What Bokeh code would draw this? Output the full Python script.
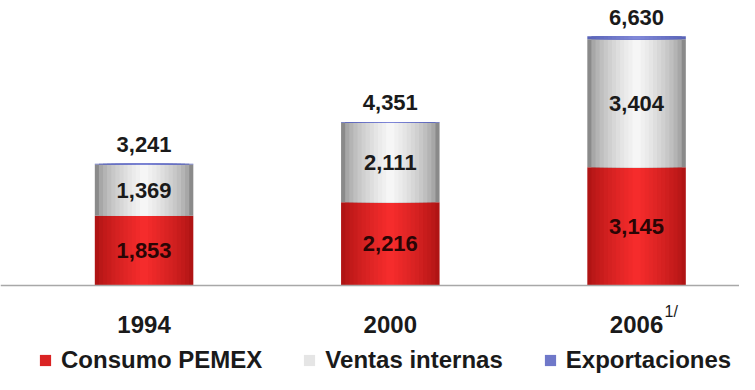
from bokeh.plotting import figure
from bokeh.models import (ColumnDataSource, Legend, LegendItem, Range1d, Span)
from bokeh.core.properties import value
from bokeh.embed import file_html
from bokeh.resources import INLINE

# ---- data ----
years = ["1994", "2000", "2006"]
consumo = [1853, 2216, 3145]
ventas = [1369, 2111, 3404]
exportaciones = [19, 24, 81]
totales = [3241, 4351, 6630]
series_names = ["Consumo PEMEX", "Ventas internas", "Exportaciones"]
footnote = ["", "", "1/"]

xs = list(range(len(years)))
c_top = consumo
v_top = [a + b for a, b in zip(consumo, ventas)]
e_top = [a + b for a, b in zip(v_top, exportaciones)]

src = ColumnDataSource(dict(
    x=xs, c0=[0] * len(xs), c1=c_top, v1=v_top, e1=e_top,
    cmid=[c / 2 for c in consumo],
    vmid=[a + b / 2 for a, b in zip(consumo, ventas)],
    clab=[f"{v:,}" for v in consumo],
    vlab=[f"{v:,}" for v in ventas],
    tot=e_top,
    tlab=[f"{v:,}" for v in totales],
    yr=years, base=[0] * len(xs), fn=footnote,
))

FONT = "Liberation Sans"

p = figure(width=739, height=374, output_backend="svg", toolbar_location=None,
           x_range=Range1d(-0.583, 2.418), y_range=Range1d(-2367, 7581),
           x_axis_location=None, y_axis_location=None,
           min_border_left=0, min_border_right=0, min_border_top=0, min_border_bottom=0)
p.background_fill_color = "white"
p.border_fill_color = "white"
p.outline_line_color = None
p.grid.visible = False

W = 0.40


def hx(c):
    return tuple(int(c[i:i + 2], 16) for i in (1, 3, 5))


def blend(a, b, t):
    a, b = hx(a), hx(b)
    return "#%02x%02x%02x" % tuple(int(round(a[i] + (b[i] - a[i]) * t)) for i in range(3))


N = 12
legend_r = {}
specs = [("c0", "c1", "#b01414", "#f52c2c", 0.8, "cons", 6),
         ("c1", "v1", "#8a8a8a", "#f6f6f6", 0.55, "vent", 8),
         ("v1", "e1", "#5a64b8", "#8088d8", 1.0, "exp", 6)]
for bot, top, edge, center, gam, key, li in specs:
    for k in range(N):
        t = (k / (N - 1)) ** gam
        r = p.vbar(x="x", bottom=bot, top=top, width=W * (1 - k / N), source=src,
                   fill_color=blend(edge, center, t), line_color=None)
        if k == li:
            legend_r[key] = r

# baseline (category axis line)
p.add_layout(Span(location=0, dimension="width", line_color="#a8a8a8", line_width=1.5))

# labels inside segments
p.text(x="x", y="cmid", text="clab", source=src, text_align="center", text_baseline="middle",
       text_font=value(FONT), text_font_style="bold", text_font_size="22px", text_color="#2a0505")
p.text(x="x", y="vmid", text="vlab", source=src, text_align="center", text_baseline="middle",
       text_font=value(FONT), text_font_style="bold", text_font_size="22px", text_color="#1a1a1a")
p.text(x="x", y="tot", text="tlab", source=src, text_align="center", text_baseline="alphabetic",
       y_offset=-19, text_font=value(FONT), text_font_style="bold", text_font_size="22px",
       text_color="#1a1a1a")

# category labels under the baseline
p.text(x="x", y="base", text="yr", source=src, text_align="center", text_baseline="middle",
       y_offset=39, text_font=value(FONT), text_font_style="bold", text_font_size="24px",
       text_color="#1a1a1a")
p.text(x="x", y="base", text="fn", source=src, text_align="left", text_baseline="middle",
       x_offset=28, y_offset=26, text_font=value(FONT), text_font_size="16px",
       text_color="#1a1a1a")

legend = Legend(items=[LegendItem(label=series_names[0], renderers=[legend_r["cons"]]),
                       LegendItem(label=series_names[1], renderers=[legend_r["vent"]]),
                       LegendItem(label=series_names[2], renderers=[legend_r["exp"]])],
                orientation="horizontal", location=(38, 0),
                label_text_font=FONT, label_text_font_style="bold", label_text_font_size="24px",
                label_text_color="#1a1a1a", glyph_width=14, glyph_height=14, label_standoff=9,
                spacing=40, padding=0, margin=0, border_line_color=None,
                background_fill_alpha=0)
p.add_layout(legend, "center")

open("out.html", "w").write(file_html(p, INLINE))
